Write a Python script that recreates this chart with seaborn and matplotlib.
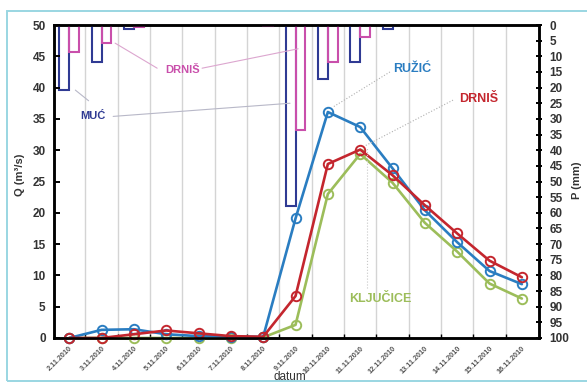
import numpy as np
import pandas as pd
import matplotlib
matplotlib.use("Agg")
import matplotlib.pyplot as plt
from matplotlib.patches import Rectangle
from matplotlib.ticker import FixedLocator
import seaborn as sns

# ---- data -------------------------------------------------------------
dates = ["2.11.2010", "3.11.2010", "4.11.2010", "5.11.2010", "6.11.2010",
         "7.11.2010", "8.11.2010", "9.11.2010", "10.11.2010", "11.11.2010",
         "12.11.2010", "13.11.2010", "14.11.2010", "15.11.2010", "16.11.2010"]

# discharge Q (m3/s)
q_ruzic = [0.0, 1.3, 1.4, 0.6, 0.3, 0.2, 0.2, 19.1, 36.1, 33.7, 27.1, 20.4, 15.3, 10.7, 8.6]
q_drnis = [0.0, 0.0, 0.6, 1.2, 0.75, 0.3, 0.2, 6.7, 27.8, 30.1, 26.0, 21.2, 16.7, 12.35, 9.7]
q_kljucice = [0.0, 0.0, 0.0, 0.0, 0.0, 0.0, 0.1, 2.1, 23.0, 29.4, 24.8, 18.4, 13.8, 8.7, 6.3]

# precipitation P (mm)
p_muc = [20.8, 11.9, 1.2, 0, 0, 0, 0, 57.8, 17.2, 11.7, 1.3, 0, 0, 0, 0]
p_drnis = [8.6, 5.8, 0.5, 0, 0, 0, 0.3, 33.5, 11.8, 3.9, 0, 0, 0, 0, 0]

q_ticks = list(range(0, 55, 5))
p_ticks = list(range(0, 105, 5))

# ---- colours ----------------------------------------------------------
c_muc = "#2f3a93"
c_drnis_p = "#c94fab"
c_ruzic = "#2a7dc1"
c_drnis_q = "#c4262e"
c_klj = "#9cbd5a"

idx = np.arange(len(dates))

df_p = pd.DataFrame({
    "idx": np.concatenate([idx, idx]),
    "P": p_muc + p_drnis,
    "station": ["MUĆ"] * len(dates) + ["DRNIŠ"] * len(dates),
})
df_q = pd.DataFrame({
    "idx": np.concatenate([idx, idx, idx]),
    "Q": q_kljucice + q_ruzic + q_drnis,
    "station": ["KLJUČICE"] * len(dates) + ["RUŽIĆ"] * len(dates) + ["DRNIŠ"] * len(dates),
})

sns.set_theme(style="white")
plt.rcParams["font.family"] = ["Liberation Sans", "DejaVu Sans"]

fig = plt.figure(figsize=(5.87, 3.86), dpi=100)
fig.patch.set_facecolor("white")

# light cyan frame
fig.add_artist(Rectangle((7 / 587, 1 - 381 / 386), 1.2, 370 / 386,
                         transform=fig.transFigure, fill=False,
                         edgecolor="#9ad6e2", linewidth=1.4, zorder=0))

L, R, T, B = 54, 539, 25, 338
ax = fig.add_axes([L / 587, 1 - B / 386, (R - L) / 587, (B - T) / 386])

# precipitation bars on the primary axes (right-hand scale, inverted)
sns.barplot(data=df_p, x="idx", y="P", hue="station", hue_order=["MUĆ", "DRNIŠ"],
            palette={"MUĆ": c_muc, "DRNIŠ": c_drnis_p}, fill=False,
            width=0.6, linewidth=1.5, ax=ax, legend=False, errorbar=None,
            zorder=3)
ax.set_ylim(100, 0)
ax.set_xlim(-0.47, len(dates) - 0.47)
ax.set_xlabel("")
ax.set_ylabel("")

# discharge lines on the twin axes (left-hand scale)
ax2 = ax.twinx()
sns.lineplot(data=df_q, x="idx", y="Q", hue="station",
             hue_order=["KLJUČICE", "RUŽIĆ", "DRNIŠ"],
             palette={"KLJUČICE": c_klj, "RUŽIĆ": c_ruzic, "DRNIŠ": c_drnis_q},
             marker="o", markersize=6.8, linewidth=1.9, legend=False, ax=ax2)
for ln in ax2.lines:
    ln.set_markerfacecolor("none")
    ln.set_markeredgecolor(ln.get_color())
    ln.set_markeredgewidth(1.4)
    ln.set_clip_on(False)
ax2.set_ylim(0, 50)
ax2.set_xlim(-0.47, len(dates) - 0.47)
ax2.set_xlabel("")
ax2.set_ylabel("")
ax2.grid(False)

# P scale on the right, Q scale on the left
ax.yaxis.tick_right()
ax.set_yticks(p_ticks)
ax2.yaxis.tick_left()
ax2.set_yticks(q_ticks)

ax.tick_params(axis="y", which="major", direction="inout", length=5, width=1.4,
               color="black", labelsize=8.5, labelcolor="#333333", pad=5,
               right=True, left=False, labelright=True, labelleft=False)
ax2.tick_params(axis="y", direction="in", length=4, width=1.4, color="black",
                labelsize=8.5, labelcolor="#333333", pad=6,
                left=True, right=False, labelleft=True, labelright=False)
for lab in ax.get_yticklabels() + ax2.get_yticklabels():
    lab.set_fontweight("bold")

# vertical grid between days
ax.xaxis.set_minor_locator(FixedLocator(idx[:-1] + 0.5))
ax.grid(True, axis="x", which="minor", color="#d4d4d4", linewidth=1.0, zorder=0)
ax.grid(False, axis="x", which="major")
ax.grid(False, axis="y")
ax.set_xticks(idx)
ax.set_xticklabels(dates, rotation=45, ha="right", rotation_mode="anchor",
                   fontsize=5.2, fontweight="bold", color="#555555")
ax.tick_params(axis="x", which="major", length=0, pad=5)
ax.tick_params(axis="x", which="minor", direction="in", length=3, width=1.0,
               color="black", bottom=True)

for a in (ax, ax2):
    for sp in a.spines.values():
        sp.set_color("black")
        sp.set_linewidth(1.8)
        sp.set_visible(True)

# station labels with leader lines
ax2.text(0.74, 35.5, "MUĆ", color=c_muc, fontsize=8, fontweight="bold",
         ha="center", va="center")
ax2.plot([0.6, 0.19], [37.9, 39.6], color="#b8b8c8", lw=0.8)
ax2.plot([1.36, 6.83], [35.4, 37.5], color="#b8b8c8", lw=0.8)

ax2.text(3.52, 42.8, "DRNIŠ", color=c_drnis_p, fontsize=8, fontweight="bold",
         ha="center", va="center")
ax2.plot([2.72, 1.42], [43.1, 47.1], color="#dca6cf", lw=0.8)
ax2.plot([4.11, 7.08], [43.1, 46.2], color="#dca6cf", lw=0.8)

ax2.text(10.6, 43.0, "RUŽIĆ", color=c_ruzic, fontsize=9, fontweight="bold",
         ha="center", va="center")
ax2.plot([9.92, 8.16], [42.5, 36.9], color="#b0b0b0", lw=0.8, ls=":")

ax2.text(12.67, 38.2, "DRNIŠ", color=c_drnis_q, fontsize=9, fontweight="bold",
         ha="center", va="center")
ax2.plot([11.87, 9.15], [38.0, 30.7], color="#b0b0b0", lw=0.8, ls=":")

ax2.text(9.61, 6.2, "KLJUČICE", color=c_klj, fontsize=9, fontweight="bold",
         ha="center", va="center")
ax2.plot([9.21, 9.21], [8.0, 30.5], color="#c8c8c8", lw=0.8, ls=":")

# axis titles
fig.text(20 / 587, 1 - 175 / 386, "Q (m³/s)", rotation=90, ha="center",
         va="center", fontsize=8, fontweight="bold", color="#333333")
fig.text(577 / 587, 1 - 180 / 386, "P (mm)", rotation=90, ha="center",
         va="center", fontsize=8, fontweight="bold", color="#333333")
fig.text(290 / 587, 1 - 377 / 386, "datum", ha="center", va="center",
         fontsize=8.5, color="#333333")

fig.savefig("out.png", dpi=100)
